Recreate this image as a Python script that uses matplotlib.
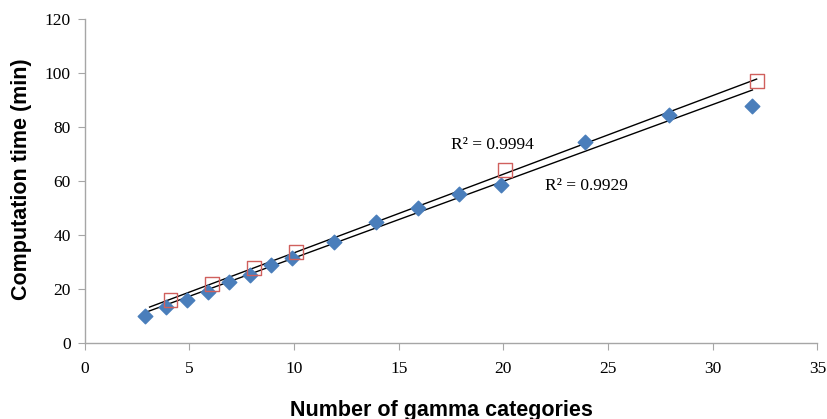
import matplotlib
matplotlib.use("Agg")
import matplotlib.pyplot as plt
import numpy as np

# blue series (diamonds)
gamma_blue = [2.9, 3.9, 4.9, 5.9, 6.9, 7.9, 8.9, 9.9, 11.9, 13.9, 15.9, 17.9, 19.9, 23.9, 27.9, 31.9]
time_blue = [9.9, 13.2, 15.8, 18.8, 22.4, 25.1, 28.8, 31.4, 37.3, 44.8, 50.0, 55.2, 58.5, 74.5, 84.5, 87.8]

# red series (open squares)
gamma_red = [4.1, 6.1, 8.1, 10.1, 20.1, 32.1]
time_red = [15.8, 21.8, 27.7, 33.7, 64.1, 97.1]

r2_labels = ["R\u00b2 = 0.9994", "R\u00b2 = 0.9929"]

x_ticks = [0, 5, 10, 15, 20, 25, 30, 35]
y_ticks = [0, 20, 40, 60, 80, 100, 120]

serif = "Liberation Serif"
sans = "Liberation Sans"

fig = plt.figure(figsize=(8.28, 4.19), dpi=100)
ax = fig.add_axes([0.1023, 0.1821, 0.8848, 0.7718])

# trend lines (red one forecast back by 1 unit, like the excel chart)
p_red = np.polyfit(gamma_red, time_red, 1)
xr = np.array([min(gamma_red) - 1, max(gamma_red)])
ax.plot(xr, np.polyval(p_red, xr), color="black", lw=1.0, zorder=2)

p_blue = np.polyfit(gamma_blue, time_blue, 1)
xb = np.array([min(gamma_blue), max(gamma_blue)])
ax.plot(xb, np.polyval(p_blue, xb), color="black", lw=1.0, zorder=2)

ax.scatter(gamma_blue, time_blue, marker="D", s=55, color="#4a7ebb",
           edgecolors="#4a7ebb", zorder=3)
ax.scatter(gamma_red, time_red, marker="s", s=100, facecolors="none",
           edgecolors="#d0605d", linewidths=1.0, zorder=3)

ax.text(17.5, 73.5, r2_labels[0], fontsize=12.5, family=serif, va="center")
ax.text(22.0, 58.2, r2_labels[1], fontsize=12.5, family=serif, va="center")

ax.set_xlim(0, 35)
ax.set_ylim(0, 120)
ax.set_xticks(x_ticks)
ax.set_yticks(y_ticks)
for lab in ax.get_xticklabels() + ax.get_yticklabels():
    lab.set_family(serif)
    lab.set_fontsize(12.5)

for s in ["top", "right"]:
    ax.spines[s].set_visible(False)
for s in ["left", "bottom"]:
    ax.spines[s].set_color("#a6a6a6")
    ax.spines[s].set_linewidth(1.0)
ax.tick_params(direction="out", length=5, color="#a6a6a6", pad=5)
ax.tick_params(axis="x", pad=8)

fig.text(441 / 828, 1 - 410 / 419, "Number of gamma categories", ha="center", va="center",
         fontsize=15.5, fontweight="bold", family=sans)
fig.text(22 / 828, 1 - 179 / 419, "Computation time (min)", ha="center", va="center",
         rotation=90, fontsize=15.5, fontweight="bold", family=sans)

fig.savefig("out.png", dpi=100)
